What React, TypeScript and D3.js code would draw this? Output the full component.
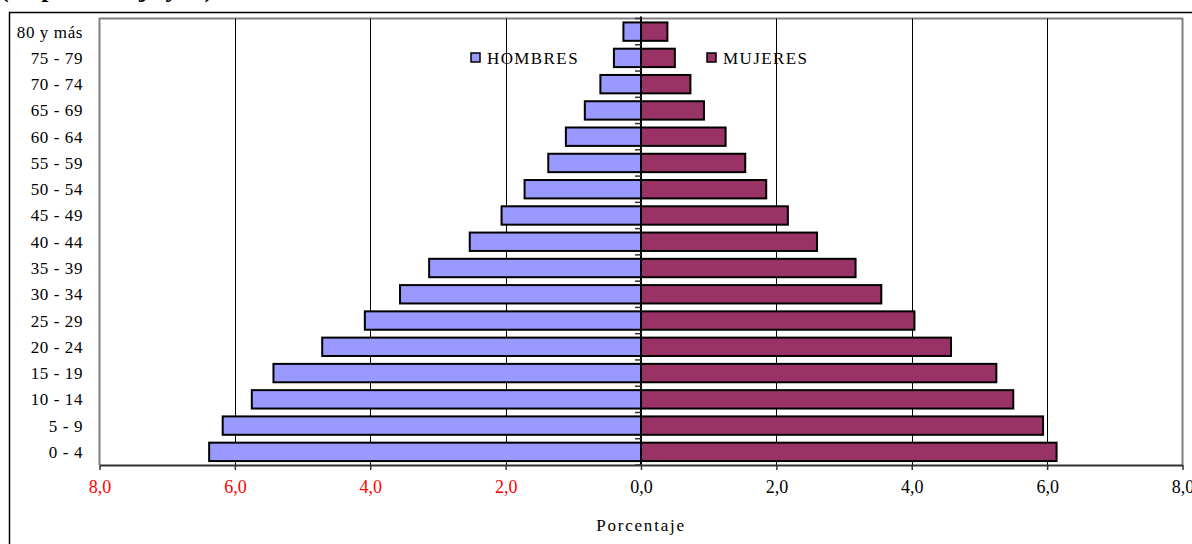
import { useEffect, useRef } from "react";
import * as d3 from "d3";

// age groups, top to bottom as drawn
const ageGroups = [
  "80 y más", "75 - 79", "70 - 74", "65 - 69", "60 - 64", "55 - 59",
  "50 - 54", "45 - 49", "40 - 44", "35 - 39", "30 - 34", "25 - 29",
  "20 - 24", "15 - 19", "10 - 14", "5 - 9", "0 - 4",
];
const hombres = [
  0.26, 0.40, 0.60, 0.83, 1.11, 1.37, 1.72, 2.06, 2.53, 3.13, 3.56, 4.08,
  4.71, 5.43, 5.75, 6.18, 6.38,
];
const mujeres = [
  0.39, 0.50, 0.73, 0.93, 1.25, 1.54, 1.85, 2.17, 2.60, 3.17, 3.55, 4.04,
  4.58, 5.25, 5.50, 5.94, 6.14,
];
const xTicks = [-8, -6, -4, -2, 0, 2, 4, 6, 8];

const W = 1192;
const H = 544;
const colorH = "#9999FF";
const colorM = "#993366";
const font = '"Liberation Serif", "DejaVu Serif", serif';

export default function App() {
  const svgRef = useRef<SVGSVGElement>(null);

  useEffect(() => {
    if (!svgRef.current) return;
    const svg = d3.select(svgRef.current);
    svg.selectAll("*").remove();

    const plot = { left: 99.5, right: 1182.5, top: 18.5, bottom: 465 };

    const x = d3.scaleLinear().domain([-8, 8]).range([plot.left, plot.right]);
    const y = d3
      .scaleBand<string>()
      .domain(ageGroups)
      .range([plot.top, plot.bottom])
      .paddingInner(0.3)
      .paddingOuter(0.15);

    // title, cut off at the very top
    svg.append("text")
      .attr("x", 0)
      .attr("y", -3)
      .style("font-family", font)
      .attr("font-size", 26)
      .attr("font-weight", "bold")
      .text("(en porcentaje y ...)");

    // outer frame (runs past the right and bottom edges)
    svg.append("rect")
      .attr("x", 9.5)
      .attr("y", 12.5)
      .attr("width", W)
      .attr("height", H)
      .attr("fill", "none")
      .attr("stroke", "#000")
      .attr("stroke-width", 1.5);

    // plot area border
    svg.append("path")
      .attr("d", `M${plot.left},${plot.bottom}V${plot.top}H${plot.right}V${plot.bottom}`)
      .attr("fill", "none")
      .attr("stroke", "#808080")
      .attr("stroke-width", 2);

    // vertical gridlines
    svg.append("g")
      .selectAll("line")
      .data(xTicks.filter((t) => t !== 0 && Math.abs(t) !== 8))
      .join("line")
      .attr("x1", (d) => Math.round(x(d)) + 0.5)
      .attr("x2", (d) => Math.round(x(d)) + 0.5)
      .attr("y1", plot.top)
      .attr("y2", plot.bottom)
      .attr("stroke", "#000")
      .attr("stroke-width", 1);

    // bars
    const bh = y.bandwidth();
    svg.append("g")
      .selectAll("rect")
      .data(ageGroups)
      .join("rect")
      .attr("x", (_, i) => x(-hombres[i]))
      .attr("y", (d) => y(d) ?? 0)
      .attr("width", (_, i) => x(0) - x(-hombres[i]))
      .attr("height", bh)
      .attr("fill", colorH)
      .attr("stroke", "#000")
      .attr("stroke-width", 2);

    svg.append("g")
      .selectAll("rect")
      .data(ageGroups)
      .join("rect")
      .attr("x", x(0))
      .attr("y", (d) => y(d) ?? 0)
      .attr("width", (_, i) => x(mujeres[i]) - x(0))
      .attr("height", bh)
      .attr("fill", colorM)
      .attr("stroke", "#000")
      .attr("stroke-width", 2);

    // central category axis with small ticks at band boundaries
    const cx = x(0);
    svg.append("line")
      .attr("x1", cx)
      .attr("x2", cx)
      .attr("y1", plot.top - 2)
      .attr("y2", plot.bottom)
      .attr("stroke", "#000")
      .attr("stroke-width", 2);
    const step = y.step();
    const bounds = d3.range(ageGroups.length + 1).map((i) => plot.top + i * step);
    svg.append("g")
      .selectAll("line")
      .data(bounds)
      .join("line")
      .attr("x1", cx - 6)
      .attr("x2", cx)
      .attr("y1", (d) => d)
      .attr("y2", (d) => d)
      .attr("stroke", "#333")
      .attr("stroke-width", 1.5);

    // category labels at the left
    svg.append("g")
      .selectAll("text")
      .data(ageGroups)
      .join("text")
      .attr("x", 83)
      .attr("y", (d) => (y(d) ?? 0) + bh / 2 + 6)
      .attr("text-anchor", "end")
      .style("font-family", font)
      .attr("font-size", 17)
      .attr("letter-spacing", 0.6)
      .attr("fill", "#000")
      .text((d) => d);

    // bottom axis
    const xAxis = d3
      .axisBottom(x)
      .tickValues(xTicks)
      .tickSize(5)
      .tickSizeOuter(0)
      .tickFormat((d) => Math.abs(+d).toFixed(1).replace(".", ","));
    const ax = svg.append("g")
      .attr("transform", `translate(0,${plot.bottom})`)
      .call(xAxis);
    ax.attr("font-family", null).attr("font-size", null);
    ax.select(".domain").attr("stroke", "#333").attr("stroke-width", 2);
    ax.selectAll(".tick line").attr("stroke", "#333").attr("stroke-width", 1.5);
    ax.selectAll<SVGTextElement, number>(".tick text")
      .attr("y", 28)
      .attr("dy", 0)
      .style("font-family", font)
      .attr("font-size", 18)
      .attr("fill", (d) => (d < 0 ? "#FF0000" : "#000"));

    // axis title
    svg.append("text")
      .attr("x", x(0))
      .attr("y", 531)
      .attr("text-anchor", "middle")
      .style("font-family", font)
      .attr("font-size", 17)
      .attr("letter-spacing", 1.8)
      .text("Porcentaje");

    // legend
    const legend = [
      { label: "HOMBRES", color: colorH, x: 471 },
      { label: "MUJERES", color: colorM, x: 707 },
    ];
    const lg = svg.append("g")
      .selectAll("g")
      .data(legend)
      .join("g")
      .attr("transform", (d) => `translate(${d.x},53)`);
    lg.append("rect")
      .attr("width", 9)
      .attr("height", 9)
      .attr("fill", (d) => d.color)
      .attr("stroke", "#000")
      .attr("stroke-width", 1.5);
    lg.append("text")
      .attr("x", 16)
      .attr("y", 11)
      .style("font-family", font)
      .attr("font-size", 17)
      .attr("letter-spacing", 1.4)
      .text((d) => d.label);

    return () => {
      svg.selectAll("*").remove();
    };
  }, []);

  return (
    <svg
      ref={svgRef}
      width={W}
      height={H}
      style={{ position: "absolute", left: 0, top: 0, background: "#fff" }}
    />
  );
}
